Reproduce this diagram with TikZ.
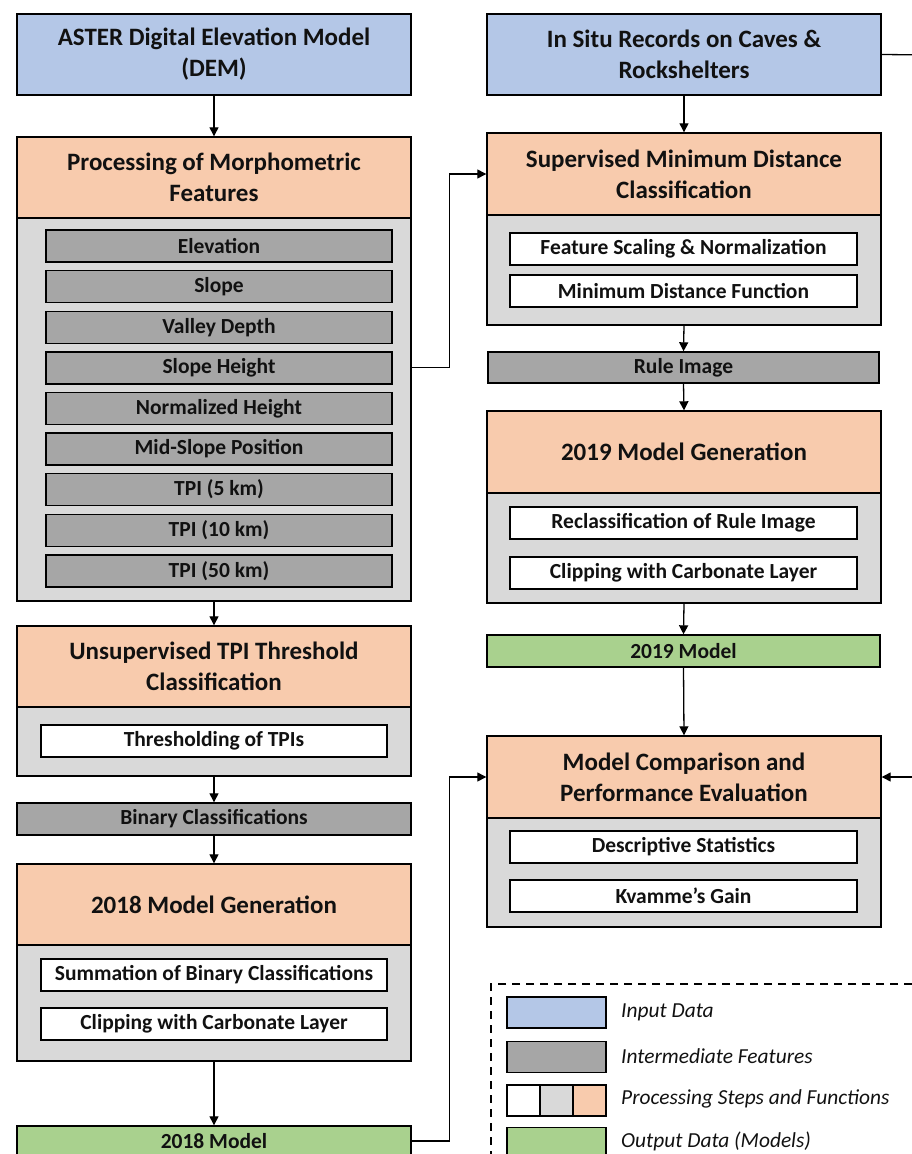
\documentclass[tikz,border=0pt]{standalone}
\usepackage{fontspec}
\setmainfont{Carlito}
\usetikzlibrary{arrows.meta}
\definecolor{cblue}{HTML}{B4C7E7}
\definecolor{corange}{HTML}{F8CBAD}
\definecolor{clgray}{HTML}{D9D9D9}
\definecolor{cdgray}{HTML}{A6A6A6}
\definecolor{cgreen}{HTML}{A9D18E}
\definecolor{ctext}{HTML}{111111}
\tikzset{
  base/.style={draw=black, line width=1.4pt, rectangle, inner sep=0pt, text=ctext, align=center},
  bigbox/.style={base, minimum width=394pt, font=\fontsize{25}{31}\selectfont\bfseries},
  inputbox/.style={bigbox, fill=cblue, minimum height=81pt},
  hdrbox/.style={bigbox, fill=corange},
  bodybox/.style={base, fill=clgray, minimum width=394pt},
  featbox/.style={base, fill=cdgray, minimum width=346pt, minimum height=32pt, font=\fontsize{21.5}{24}\selectfont\bfseries},
  funcbox/.style={base, fill=white, minimum width=346pt, minimum height=32pt, font=\fontsize{21.5}{24}\selectfont\bfseries},
  outbox/.style={base, fill=cgreen, minimum height=32pt, font=\fontsize{21.5}{24}\selectfont\bfseries},
  arr/.style={line width=1.3pt, -{Triangle[length=9pt,width=9pt]}},
  conn/.style={line width=1.3pt},
  swatch/.style={draw=black, line width=1.4pt, minimum width=99pt, minimum height=31pt, inner sep=0pt},
  legtext/.style={anchor=west, inner sep=0pt, font=\fontsize{21.4}{24}\selectfont\itshape, text=ctext}
}
\begin{document}
\begin{tikzpicture}[x=1pt,y=-1pt]
\useasboundingbox (0,0) rectangle (911,1154);
% ---------------- left column
\node[inputbox] (aster) at (214,54.5) {ASTER Digital Elevation Model\\(DEM)};
\node[hdrbox, minimum height=81pt] (prochdr) at (214,177.5) {Processing of Morphometric\\Features};
\node[bodybox, minimum height=383pt] (procbody) at (214,409.5) {};
\node[featbox] (f1) at (219,246) {Elevation};
\node[featbox] (f2) at (219,286.6) {Slope};
\node[featbox] (f3) at (219,327.2) {Valley Depth};
\node[featbox] (f4) at (219,367.8) {Slope Height};
\node[featbox] (f5) at (219,408.4) {Normalized Height};
\node[featbox] (f6) at (219,449) {Mid-Slope Position};
\node[featbox] (f7) at (219,489.6) {TPI (5 km)};
\node[featbox] (f8) at (219,530.2) {TPI (10 km)};
\node[featbox] (f9) at (219,570.8) {TPI (50 km)};
\node[hdrbox, minimum height=81pt] (unsuphdr) at (214,666.5) {Unsupervised TPI Threshold\\Classification};
\node[bodybox, minimum height=69pt] (unsupbody) at (214,741.5) {};
\node[funcbox] (thresh) at (214,741) {Thresholding of TPIs};
\node[featbox, minimum width=394pt] (binary) at (214,819) {Binary Classifications};
\node[hdrbox, minimum height=81pt] (genhdr18) at (214,904.5) {2018 Model Generation};
\node[bodybox, minimum height=116pt] (genbody18) at (214,1003) {};
\node[funcbox] (summ) at (214,975) {Summation of Binary Classifications};
\node[funcbox] (clip18) at (214,1024) {Clipping with Carbonate Layer};
\node[outbox, minimum width=394pt, minimum height=30pt] (model18) at (214,1141) {2018 Model};
% ---------------- right column
\node[inputbox] (insitu) at (684,54.5) {In Situ Records on Caves \&\\Rockshelters};
\node[hdrbox, minimum height=82pt] (suphdr) at (684,174) {Supervised Minimum Distance\\Classification};
\node[bodybox, minimum height=110pt] (supbody) at (684,270) {};
\node[funcbox, minimum width=347pt] (scaling) at (683.5,249) {Feature Scaling \& Normalization};
\node[funcbox, minimum width=347pt] (mindist) at (683.5,291) {Minimum Distance Function};
\node[featbox, minimum width=391pt, minimum height=31pt] (rule) at (683.5,367.5) {Rule Image};
\node[hdrbox, minimum height=82pt] (genhdr19) at (684,452) {2019 Model Generation};
\node[bodybox, minimum height=110pt] (genbody19) at (684,548) {};
\node[funcbox, minimum width=347pt] (reclass) at (683.5,523) {Reclassification of Rule Image};
\node[funcbox, minimum width=347pt] (clip19) at (683.5,573) {Clipping with Carbonate Layer};
\node[outbox, minimum width=393pt] (model19) at (683.5,651) {2019 Model};
\node[hdrbox, minimum height=82pt] (comphdr) at (684,777) {Model Comparison and\\Performance Evaluation};
\node[bodybox, minimum height=109pt] (compbody) at (684,872.5) {};
\node[funcbox, minimum width=347pt] (desc) at (683.5,847) {Descriptive Statistics};
\node[funcbox, minimum width=347pt] (kvamme) at (683.5,896) {Kvamme’s Gain};
% ---------------- connectors
\draw[arr] (aster.south) -- (prochdr.north);
\draw[arr] (procbody.south) -- (unsuphdr.north);
\draw[arr] (unsupbody.south) -- (binary.north);
\draw[arr] (binary.south) -- (genhdr18.north);
\draw[arr] (genbody18.south) -- (model18.north);
\draw[arr] (procbody.east |- f4) -- ++(38,0) |- (suphdr.west);
\draw[arr] (model18.east) -- ++(38,0) |- (comphdr.west);
\draw[arr] (insitu.south) -- (suphdr.north);
\draw[arr] (supbody.south) -- (rule.north);
\draw[arr] (rule.south) -- (genhdr19.north);
\draw[arr] (genbody19.south) -- (model19.north);
\draw[arr] (model19.south) -- (comphdr.north);
\coordinate (offA) at (935,55);
\coordinate (offB) at (935,777);
\draw[conn] (insitu.east) -- (offA);
\draw[arr] (offB) -- (comphdr.east);
% ---------------- legend
\coordinate (legTL) at (491,984);
\coordinate (legBR) at (940,1190);
\draw[line width=1.2pt, dash pattern=on 8pt off 6pt] (legBR |- legTL) -- (legTL) -- (legTL |- legBR);
\node[swatch, fill=cblue] (lg1) at (556.5,1012.5) {};
\node[swatch, fill=cdgray] (lg2) at (556.5,1057) {};
\node[swatch, fill=white] (lg3) at (556.5,1100.5) {};
\fill[clgray] (540,1085.7) rectangle (573,1115.3);
\fill[corange] (573,1085.7) rectangle (606,1115.3);
\draw[line width=1.4pt] (507,1085) rectangle (606,1116) (540,1085) -- (540,1116) (573,1085) -- (573,1116);
\node[swatch, fill=cgreen] (lg4) at (556.5,1143) {};
\node[legtext] (lt1) at (621,1012) {Input Data};
\node[legtext] (lt2) at (621,1056) {Intermediate Features};
\node[legtext] (lt3) at (621,1099) {Processing Steps and Functions};
\node[legtext] (lt4) at (621,1141) {Output Data (Models)};
\end{tikzpicture}
\end{document}
